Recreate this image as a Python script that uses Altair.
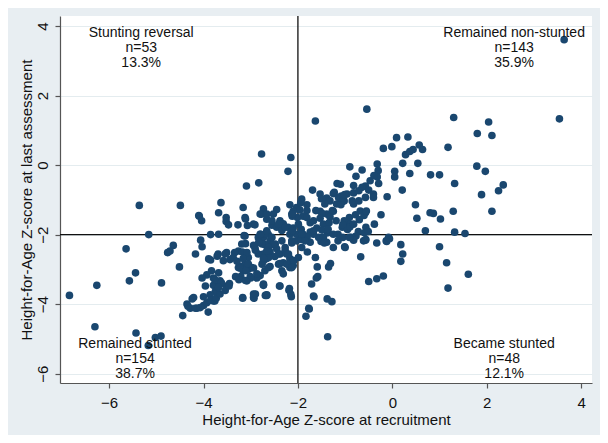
import altair as alt
import pandas as pd

# Height-for-Age Z-score at recruitment (x) and at last assessment (y)
haz_recruitment = [
    -5.36, -4.49, -2.77, -2.15, -2.21, -2.83, -3.09, -3.63, -3.16, -4.09, -3.68, -3.52, -2.73, -2.45, -2.17, -1.92,
    3.64, 3.54, -0.54, -1.63, 1.30, 2.04, 1.80, 2.11, 1.18, 0.09, 0.33, -0.19, -0.01, 0.57, 0.64, 0.28, 0.37, 0.44,
    0.54, 0.22, -0.32, -0.90, -0.64, -0.77, -0.30, -0.32, 0.05, 0.05, 0.37, 0.81, 1.00, 1.79, 1.97, 1.32, -0.47,
    -0.29, -1.17, -0.57, -0.50, -0.40, 0.21, 2.35, 2.25, 1.89, -0.11, -1.69, -1.53, -1.39, -1.25, -1.08, -0.96,
    -0.82, -0.71, -0.64, 0.49, 0.80, 0.87, 1.29, 2.11, -1.81, -1.32, -1.18, -1.07, -0.82, -0.68, -0.57, -1.53,
    -1.39, -1.25, -0.91, -0.24, 0.52, 1.02,
    -0.39, -0.82, -0.40, -0.57, -0.71, -0.85, -1.02, -1.10,
    -0.38, -0.56, -0.59, -0.72, -0.77, -0.91, -1.02, -1.06, -0.95, -0.78, -0.70, -0.60, -0.55,
    -0.08, -0.13, -0.33, -0.56, -0.61, -1.01, -0.87, 0.18, 0.70, 1.00,
    1.32, 1.54, -0.51, -0.57, -0.85, -0.82, -1.05, -0.90, -0.82, -1.15, -0.12, -0.06, 0.22, 0.18, 1.15, 1.61,
    1.18, -0.67, -0.50, -0.33, -0.19, -1.00, -1.25, -1.37, -1.46, -1.39, -1.51, -1.56, -1.67, -1.81, -1.74,
    -1.80, -1.63, -1.59, -1.61, -1.71, -1.66, -1.35, -1.31, -1.38, -1.28, -1.37, -1.76, -1.83,
    -1.58, -1.44, -1.15, -1.05, -0.91,
    -2.66, -2.38, -2.19, -2.14, -2.73, -1.67, -1.77,
    -1.23, -1.14, -1.05, -1.01, -1.09, -1.50, -1.43,
    -2.03, -2.10, -1.96, -1.81, -1.89, -2.01, -2.12, -1.81, -1.74, -1.67, -1.62, -1.49, -1.27, -1.32, -1.19,
    -1.53, -1.46, -1.34, -1.60, -1.49, -1.36, -1.25,
    -2.52, -2.38, -2.66, -2.55, -2.45, -2.31, -2.34, -2.21, -2.10, -2.17, -2.03, -1.93, -1.89, -1.74, -2.03,
    -2.13, -1.93, -1.81, -1.67,
    -2.80, -2.73, -2.63, -2.59, -2.70, -2.52, -2.45, -2.59, -2.73, -2.66, -2.49, -2.38, -2.27, -2.24, -2.17,
    -2.31, -2.10, -2.17, -2.10, -2.38, -2.73, -2.59, -2.70, -2.80,
    -1.94, -3.12, -2.94, -2.77, -2.55, -2.41, -2.27, -2.13, -1.99, -2.12, -3.12, -3.19, -3.26,
    -2.84, -2.69, -2.55, -2.76, -2.62, -2.48, -2.34, -2.27, -2.41, -2.20, -2.09, -2.23, -2.41, -2.62, -2.84,
    -2.91, -3.05, -3.12, -3.26, -2.98, -2.76, -2.62, -2.34, -2.13, -1.99, -1.92, -1.85, -1.92, -2.13,
    -4.10, -4.04, -3.52, -3.47, -3.11, -3.27, -3.07, -2.91, -2.80, -2.66, -3.85, -3.68, -4.64, -4.71, -4.06,
    -4.03, -4.17, -4.51, -3.89, -3.85, -3.69, -3.51, -3.34, -3.18, -3.08, -3.44, -3.58, -3.11, -3.14, -2.79,
    -2.83, -2.94, -2.90, -2.66, -2.66, -2.73, -3.83, -3.93, -3.79, -3.65, -4.03, -3.23, -3.16, -3.05, -3.21,
    -3.01, -2.87, -3.08, -3.96, -3.79, -3.66, -3.51, -3.45, -3.17, -2.94, -2.93, -2.69, -2.73, -3.75, -3.86,
    -4.00, -4.21, -4.35, -4.28, -4.14, -4.00, -3.79, -3.93,
    -6.84, -6.26, -6.30, -5.43, -5.17, -5.02, -4.90, -5.64, -5.16, -4.76, -5.57, -5.44, -4.89, -3.68, -3.76,
    -4.44, -4.33, -4.24, -4.17, -4.07, -3.90, -3.85, -3.76, -3.73, -3.65, -3.54, -3.46, -3.62, -3.68,
    -3.71, -3.54, -3.37, -3.29, -3.16, -3.05, -3.23, -2.94, -3.10, -2.87, -3.00, -3.11, -3.32, -3.25, -2.73,
    -2.66, -2.94, -2.90, -3.17, -2.39, -2.31, -2.18, -2.15,
]
haz_last = [
    -1.16, -1.16, 0.32, 0.22, -0.18, -0.51, -0.60, -1.08, -1.22, -1.47, -1.37, -1.51, -1.26, -1.28, -1.14, -0.98,
    3.61, 1.33, 1.61, 1.27, 1.37, 1.24, 0.91, 0.85, 0.51, 0.79, 0.81, 0.48, 0.53, 0.58, 0.45, 0.30, 0.39, 0.45,
    0.05, 0.05, 0.03, -0.05, -0.14, -0.32, -0.16, -0.34, -0.18, -0.34, -0.24, -0.28, -0.28, -0.03, -0.18, -0.53, -0.45,
    -0.53, -0.53, -0.60, -0.72, -0.83, -0.72, -0.57, -0.74, -0.85, -0.91, -0.72, -0.83, -0.95, -0.82, -0.89, -0.83,
    -0.80, -0.74, -0.64, -1.14, -1.37, -1.39, -1.33, -1.33, -1.14, -1.03, -1.12, -1.06, -1.12, -1.32, -1.37, -1.33,
    -1.41, -1.33, -1.51, -1.43, -1.53, -1.55,
    -0.30, -0.59, -0.93, -0.93, -1.03, -1.03, -1.03, -0.55,
    -1.70, -1.79, -1.95, -1.91, -2.04, -1.70, -1.60, -1.79, -1.85, -1.43, -1.57, -1.45, -1.32,
    -2.08, -2.18, -2.24, -2.14, -2.18, -2.35, -2.08, -2.29, -1.89, -2.35,
    -1.93, -1.97, -1.91, -2.16, -2.10, -2.16, -1.72, -1.78, -1.70, -1.99, -2.20, -2.12, -2.56, -2.77, -2.81, -3.14,
    -3.54, -2.64, -3.35, -3.27, -3.19, -2.37, -2.37, -1.95, -2.08, -2.22, -2.20, -2.08, -1.99, -2.06, -2.22,
    -2.50, -2.66, -2.93, -3.25, -3.42, -3.79, -2.93, -2.83, -3.85, -3.93, -4.94, -4.14, -4.35,
    -3.21, -2.24, -2.18, -2.08, -2.08,
    -3.75, -3.48, -3.60, -3.79, -3.46, -3.77, -4.12,
    -0.78, -0.93, -1.03, -0.85, -1.14, -0.97, -1.12,
    -1.22, -1.33, -1.29, -1.31, -1.47, -1.51, -1.47, -1.51, -1.66, -1.60, -1.31, -1.39, -1.31, -1.49, -1.60,
    -1.53, -1.70, -1.66, -1.81, -1.87, -1.85, -1.99,
    -1.41, -1.60, -1.56, -1.73, -1.79, -1.69, -1.88, -1.79, -1.81, -1.99, -1.99, -1.85, -1.99, -1.93, -2.18,
    -2.24, -2.14, -2.08, -1.89,
    -1.99, -2.08, -1.99, -2.18, -2.29, -2.29, -2.41, -2.50, -2.56, -2.69, -2.63, -2.56, -2.46, -2.56, -2.69,
    -2.81, -2.75, -2.95, -2.89, -2.83, -2.75, -2.92, -3.04, -3.18,
    -1.08, -1.51, -1.70, -1.41, -1.60, -1.70, -1.79, -1.41, -1.70, -1.89, -2.04, -2.27, -2.47,
    -2.08, -1.99, -2.08, -2.27, -2.37, -2.27, -2.18, -2.37, -2.56, -2.56, -2.75, -2.85, -2.85, -2.66, -2.56,
    -2.37, -2.66, -2.85, -2.95, -2.95, -2.85, -2.95, -3.04, -2.95, -2.66, -2.37, -2.18, -1.99, -2.18,
    -1.45, -1.60, -1.62, -1.72, -1.55, -1.72, -1.74, -1.72, -1.41, -1.41, -2.00, -1.99, -2.31, -2.47, -2.16,
    -2.35, -2.56, -2.93, -2.70, -2.73, -2.56, -2.52, -2.52, -2.50, -2.52, -2.72, -2.75, -2.26, -2.03, -1.99,
    -2.22, -2.31, -2.45, -1.89, -2.47, -2.68, -3.04, -3.16, -3.25, -3.33, -3.25, -2.91, -3.04, -3.00, -3.21,
    -3.21, -3.25, -3.33, -3.48, -3.46, -3.44, -3.48, -3.41, -3.81, -3.71, -3.83, -3.75, -3.44, -3.64, -3.73,
    -3.79, -3.81, -4.00, -4.12, -4.12, -4.04, -3.91, -3.96,
    -3.75, -3.46, -4.65, -4.83, -5.19, -4.96, -4.92, -2.41, -2.00, -2.52, -3.33, -3.10, -3.39, -3.10, -3.29,
    -4.33, -4.06, -3.85, -4.12, -4.10, -4.23, -3.89, -3.91, -3.83, -3.71, -3.61, -3.48, -3.39, -3.52,
    -2.62, -2.55, -2.66, -2.77, -2.69, -2.85, -2.96, -2.96, -3.04, -3.13, -3.25, -3.32, -3.21, -3.30, -3.42,
    -3.73, -3.81, -3.71, -3.83, -3.48, -3.13, -3.55, -3.72,
]

# Quadrant annotations
label_text = [
    "Stunting reversal", "n=53", "13.3%",
    "Remained non-stunted", "n=143", "35.9%",
    "Remained stunted", "n=154", "38.7%",
    "Became stunted", "n=48", "12.1%",
]
label_x = [-5.32, -5.32, -5.32, 2.58, 2.58, 2.58, -5.45, -5.45, -5.45, 2.37, 2.37, 2.37]
label_y = [3.80, 3.37, 2.94, 3.80, 3.37, 2.94, -5.14, -5.58, -6.02, -5.14, -5.58, -6.02]

cutoff = [-2]
x_ticks = [-6, -4, -2, 0, 2, 4]
y_ticks = [-6, -4, -2, 0, 2, 4]

n = min(len(haz_recruitment), len(haz_last))
points = pd.DataFrame({"x": haz_recruitment[:n], "y": haz_last[:n]})
labels = pd.DataFrame({"x": label_x, "y": label_y, "t": label_text})
cut = pd.DataFrame({"c": cutoff})

FONT = "Liberation Sans"
xscale = alt.Scale(domain=[-7.04, 4.23], nice=False, zero=False)
yscale = alt.Scale(domain=[-6.27, 4.29], nice=False, zero=False)

xaxis = alt.Axis(values=x_ticks, grid=False, title="Height-for-Age Z-score at recruitment",
                 tickSize=5, labelPadding=7, titlePadding=2)
yaxis = alt.Axis(values=y_ticks, grid=True, gridColor="#e4ecef", gridWidth=1,
                 title="Height-for-Age Z-score at last assessment",
                 labelAngle=270, labelAlign="center", labelBaseline="bottom",
                 tickSize=5, labelPadding=5, titlePadding=1)

base_pts = alt.Chart(points).mark_circle(size=58, opacity=1, color="#1a476f").encode(
    x=alt.X("x:Q", scale=xscale, axis=xaxis),
    y=alt.Y("y:Q", scale=yscale, axis=yaxis),
)

vrule = alt.Chart(cut).mark_rule(color="#111111", strokeWidth=1.3).encode(
    x=alt.X("c:Q", scale=xscale)
)
hrule = alt.Chart(cut).mark_rule(color="#111111", strokeWidth=1.3).encode(
    y=alt.Y("c:Q", scale=yscale)
)

texts = alt.Chart(labels).mark_text(font=FONT, fontSize=14, color="#111111",
                                     align="center", baseline="middle").encode(
    x=alt.X("x:Q", scale=xscale),
    y=alt.Y("y:Q", scale=yscale),
    text="t:N",
)

chart = alt.layer(vrule, hrule, base_pts, texts).properties(
    width=532, height=367,
    background="#e8eef2",
    padding={"left": 52, "top": 8, "right": 8, "bottom": 52},
    autosize=alt.AutoSizeParams(type="none"),
).configure_view(
    fill="white", stroke=None,
).configure_axis(
    labelFont=FONT, titleFont=FONT, labelFontSize=15, titleFontSize=15,
    titleFontWeight="normal", labelColor="#111111", titleColor="#111111",
    domainColor="#555555", tickColor="#555555", domainWidth=1.2, tickWidth=1.2,
)

chart.save("out.html", embed_options={"renderer": "svg", "actions": False})
